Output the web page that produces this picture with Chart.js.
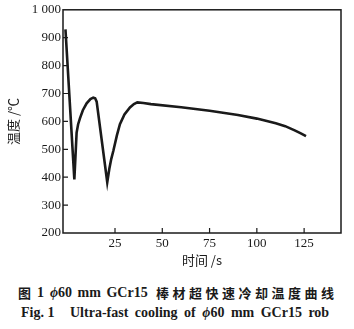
<!DOCTYPE html>
<html>
<head>
<meta charset="utf-8">
<script src="https://cdn.jsdelivr.net/npm/chart.js@4.4.0/dist/chart.umd.min.js"></script>
<style>
  html, body { margin: 0; padding: 0; background: #fff; }
  #wrap { position: relative; width: 354px; height: 329px; }
  #box { position: absolute; left: 0; top: 0; width: 354px; height: 272px; }
  .cap { position: absolute; color: #1a1a1a; font-weight: bold; line-height: 16px;
         font-family: "Liberation Serif", serif; font-size: 14px; white-space: pre; }
  .cn { font-family: "Noto Sans CJK SC", sans-serif; font-size: 13px; letter-spacing: 3.5px; }
  .phi { font-style: italic; }
</style>
</head>
<body>
<div id="wrap">
  <div id="box"><canvas id="coolChart"></canvas></div>
  <!-- légende de la figure -->
  <span class="cap cn" style="top:285px; left:18px;">图</span>
  <span class="cap" style="top:285px; left:37px;">1</span>
  <span class="cap" style="top:285px; left:50px; word-spacing:2px;"><span class="phi">ϕ</span>60 mm GCr15</span>
  <span class="cap cn" style="top:285px; left:156px;">棒材超快速冷却温度曲线</span>
  <span class="cap" style="top:305px; left:21px;">Fig. 1</span>
  <span class="cap" style="top:305px; left:70px; word-spacing:3px;">Ultra-fast cooling of <span class="phi">ϕ</span>60 mm GCr15 rob</span>
</div>
<script>
// temps de refroidissement (s) et température mesurée (℃)
const times = [-1.2, 3.5, 4.2, 4.7, 5.5, 6.5, 8, 10, 12, 13.5, 14.5, 15.3, 20.9, 22, 23, 24.1, 26, 27.6, 30, 32.9, 35, 36.8, 40, 44, 60, 75, 90, 100, 110, 115, 120, 123, 126];
const temps = [930, 392, 490, 560, 590, 612, 640, 665, 680, 685, 683, 671, 382, 430, 465, 494, 550, 590, 625, 650, 662, 668, 666, 662, 651, 638, 623, 610, 593, 583, 568, 558, 547];
const xTicks = [25, 50, 75, 100, 125];
const yTicks = [200, 300, 400, 500, 600, 700, 800, 900, 1000];

const ink = '#1a1a1a';
const serif = '"Liberation Serif", serif';
const cjk = '"Noto Sans CJK SC", sans-serif';

// cadre complet + graduations tournées vers l'intérieur
const framePlugin = {
    id: 'frame',
    afterDraw(chart) {
        const { ctx, chartArea: a, scales: { x, y } } = chart;
        ctx.save();
        ctx.strokeStyle = ink;
        ctx.lineWidth = 1.5;
        ctx.strokeRect(a.left, a.top, a.width, a.height);
        ctx.lineWidth = 1.2;
        ctx.beginPath();
        xTicks.forEach(v => {
            const px = x.getPixelForValue(v);
            ctx.moveTo(px, a.bottom);
            ctx.lineTo(px, a.bottom - 5);
        });
        yTicks.slice(1, -1).forEach(v => {
            const py = y.getPixelForValue(v);
            ctx.moveTo(a.left, py);
            ctx.lineTo(a.left + 5, py);
        });
        ctx.stroke();
        ctx.restore();
    }
};

new Chart(document.getElementById('coolChart').getContext('2d'), {
    type: 'line',
    data: {
        datasets: [{
            data: times.map((t, i) => ({ x: t, y: temps[i] })),
            borderColor: ink,
            borderWidth: 2.6,
            pointRadius: 0,
            tension: 0,
            fill: false
        }]
    },
    options: {
        responsive: true,
        maintainAspectRatio: false,
        animation: false,
        layout: { padding: { top: 7, right: 13, bottom: 0, left: 0 } },
        plugins: { legend: { display: false }, tooltip: { enabled: false } },
        scales: {
            x: {
                type: 'linear',
                min: -2.5,
                max: 144.5,
                afterBuildTicks: scale => { scale.ticks = xTicks.map(v => ({ value: v })); },
                afterFit: scale => { scale.height = 39; },
                grid: { display: false, drawTicks: false },
                border: { display: false },
                ticks: { color: ink, font: { family: serif, size: 13 }, padding: 3, maxRotation: 0 },
                title: {
                    display: true,
                    text: '时间 /s',
                    color: ink,
                    font: { family: cjk, size: 13 },
                    padding: { top: 0, bottom: 4 }
                }
            },
            y: {
                min: 200,
                max: 1000,
                afterBuildTicks: scale => { scale.ticks = yTicks.map(v => ({ value: v })); },
                afterFit: scale => { scale.width = 63; },
                grid: { display: false, drawTicks: false },
                border: { display: false },
                ticks: {
                    color: ink,
                    font: { family: serif, size: 13 },
                    padding: 2,
                    callback: v => (v === 1000 ? '1 000' : v)
                },
                title: {
                    display: true,
                    text: '温度 /℃',
                    color: ink,
                    font: { family: cjk, size: 13 },
                    padding: { top: 5, bottom: 0 }
                }
            }
        }
    },
    plugins: [framePlugin]
});
</script>
</body>
</html>
